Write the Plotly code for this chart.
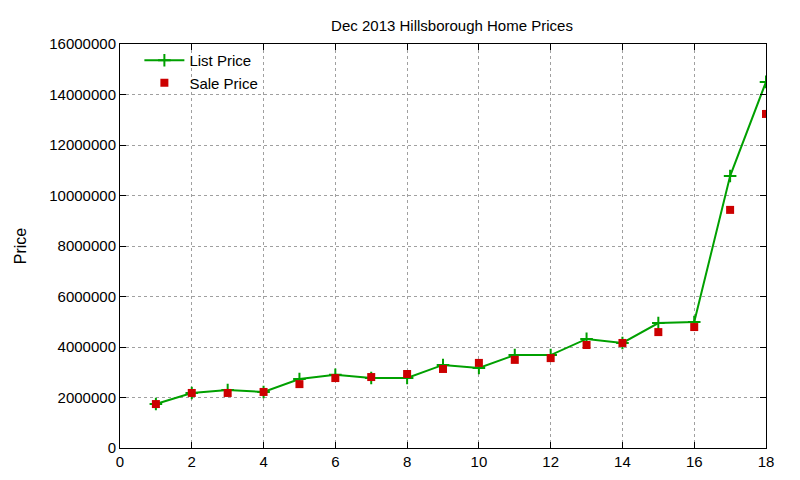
import plotly.graph_objects as go

house = list(range(1, 19))
list_price = [1740000, 2180000, 2300000, 2220000, 2730000, 2900000, 2770000, 2770000, 3290000,
              3170000, 3680000, 3680000, 4320000, 4160000, 4950000, 4990000, 10770000, 14500000]
sale_price = [1740000, 2180000, 2180000, 2220000, 2530000, 2770000, 2810000, 2930000, 3130000,
              3370000, 3490000, 3560000, 4080000, 4160000, 4590000, 4790000, 9430000, 13230000]

fig = go.Figure()
fig.add_trace(go.Scatter(x=house, y=list_price, mode="lines+markers", name="List Price",
                         line=dict(color="#00a000", width=2),
                         marker=dict(symbol="cross-thin", size=9, line=dict(color="#00a000", width=2))))
fig.add_trace(go.Scatter(x=house, y=sale_price, mode="markers", name="Sale Price",
                         marker=dict(symbol="square", size=8, color="#cc0000")))

axis = dict(showline=True, linecolor="black", mirror="ticks", ticks="inside", ticklen=6,
            tickcolor="black", showgrid=True, gridcolor="#a0a0a0", griddash="dot",
            gridwidth=1, zeroline=False, tickfont=dict(size=15, color="black"))
fig.update_xaxes(range=[0, 18], dtick=2, **axis)
fig.update_yaxes(range=[0, 16000000], dtick=2000000, tickformat="d",
                 title=dict(text="Price", font=dict(size=16, color="black"), standoff=18), **axis)
fig.update_layout(
    width=800, height=480, plot_bgcolor="white", paper_bgcolor="white",
    font=dict(family="Liberation Sans, Arial", color="black"),
    title=dict(text="Dec 2013 Hillsborough Home Prices", x=0.555, xanchor="center", y=0.975,
               font=dict(size=15, color="black")),
    margin=dict(l=112, r=42, t=36, b=40),
    legend=dict(x=0.03, y=1.0, xanchor="left", yanchor="top", bgcolor="rgba(0,0,0,0)",
                font=dict(size=15), tracegroupgap=0, itemwidth=40),
)
fig.write_html("out.html")
